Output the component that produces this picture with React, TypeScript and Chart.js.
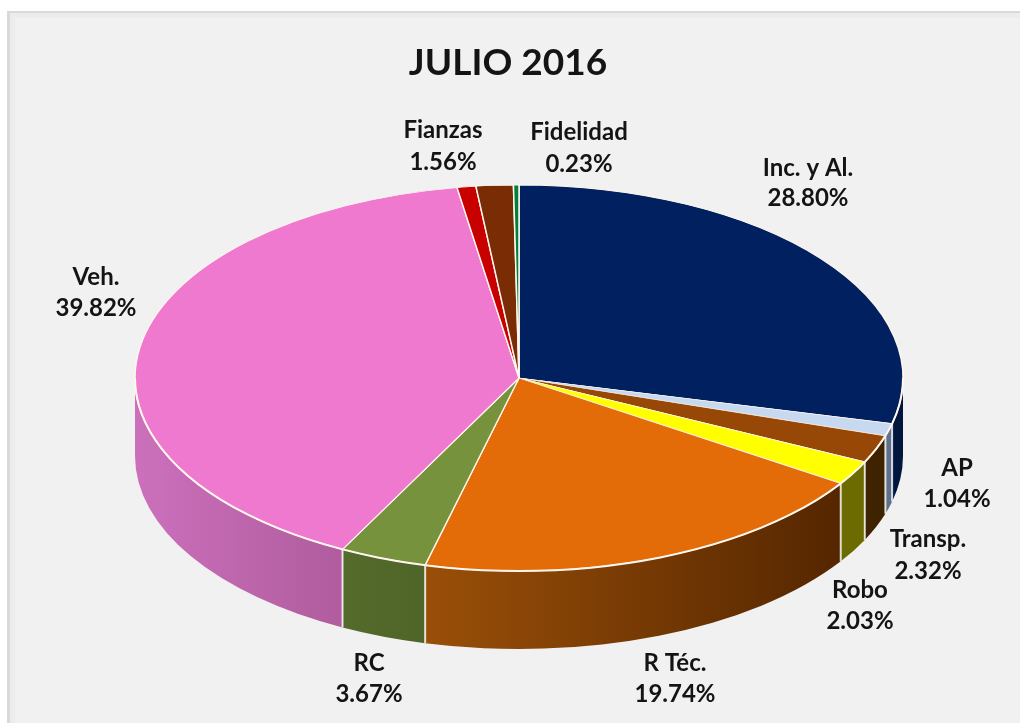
import React, { useEffect, useRef } from "react";
import { Chart, registerables } from "chart.js";

Chart.register(...registerables);

const categories = ["Inc. y Al.", "AP", "Transp.", "Robo", "R Téc.", "RC", "Veh.", "", "Fianzas", "Fidelidad"];
const shares = [28.8, 1.04, 2.32, 2.03, 19.74, 3.67, 39.82, 0.79, 1.56, 0.23];
const sliceColors = ["#002060", "#c6d9f0", "#974706", "#ffff00", "#e36c09", "#76923c", "#ee79cf", "#c90000", "#7a2c05", "#00803c"];
const wallLeftColors = ["#00163f", "#5f708a", "#3f2200", "#6b6b00", "#9a4f08", "#546b2c", "#cc70bc", "#800000", "#4c1c03", "#005028"];
const wallRightColors = ["#00163f", "#5f708a", "#3f2200", "#6b6b00", "#552600", "#4f6528", "#b05c9e", "#800000", "#4c1c03", "#005028"];
const labelCentersX = [808, 957, 928, 860, 675, 369, 96, 0, 443, 579];
const labelNameY = [168, 468, 539, 590, 663, 663, 277, 0, 130, 132];
const labelValueY = [198, 499, 571, 621, 694, 694, 308, 0, 162, 164];

const WIDTH = 1020;
const HEIGHT = 723;
const PIE_X = 519;
const PIE_Y = 378;
const PIE_RADIUS = 384;
const SQUASH = 193 / 384;
const DEPTH = 78;
const FONT_FAMILY = "Lato, 'Open Sans', sans-serif";

const frame = {
  id: "frame",
  beforeDraw(chart: any) {
    const { ctx } = chart;
    ctx.save();
    ctx.fillStyle = "#ffffff";
    ctx.fillRect(0, 0, WIDTH, HEIGHT);
    ctx.fillStyle = "#d9d9d9";
    ctx.fillRect(7, 11, WIDTH - 7, HEIGHT - 11);
    ctx.fillStyle = "#ececec";
    ctx.fillRect(10, 13, WIDTH - 10, HEIGHT - 13);
    ctx.fillStyle = "#f1f1f1";
    ctx.fillRect(15, 18, WIDTH - 15, HEIGHT - 18);
    ctx.restore();
  },
};

const pie3d = {
  id: "pie3d",
  beforeDatasetsDraw(chart: any) {
    const { ctx } = chart;
    const arcs = chart.getDatasetMeta(0).data;
    const rx = arcs[0].outerRadius;
    const ry = rx * SQUASH;
    const seams: number[] = [];
    ctx.save();
    arcs.forEach((arc: any, i: number) => {
      const a = Math.max(arc.startAngle, 0);
      const b = Math.min(arc.endAngle, Math.PI);
      if (a >= b) return;
      const grad = ctx.createLinearGradient(PIE_X + rx * Math.cos(b), 0, PIE_X + rx * Math.cos(a), 0);
      grad.addColorStop(0, wallLeftColors[i]);
      grad.addColorStop(1, wallRightColors[i]);
      ctx.beginPath();
      ctx.ellipse(PIE_X, PIE_Y, rx, ry, 0, a, b);
      ctx.ellipse(PIE_X, PIE_Y + DEPTH, rx, ry, 0, b, a, true);
      ctx.closePath();
      ctx.fillStyle = grad;
      ctx.fill();
      if (a > 0) seams.push(a);
    });
    ctx.strokeStyle = "rgba(255,255,255,0.8)";
    ctx.lineWidth = 2;
    seams.forEach((t) => {
      const x = PIE_X + rx * Math.cos(t);
      const y = PIE_Y + ry * Math.sin(t);
      ctx.beginPath();
      ctx.moveTo(x, y);
      ctx.lineTo(x, y + DEPTH);
      ctx.stroke();
    });
    ctx.restore();
    ctx.save();
    ctx.translate(PIE_X, PIE_Y);
    ctx.scale(1, SQUASH);
    ctx.translate(-arcs[0].x, -arcs[0].y);
  },
  afterDatasetsDraw(chart: any) {
    const { ctx } = chart;
    ctx.restore();
    const rx = chart.getDatasetMeta(0).data[0].outerRadius;
    ctx.save();
    ctx.strokeStyle = "#fff7ee";
    ctx.lineWidth = 2;
    ctx.beginPath();
    ctx.ellipse(PIE_X, PIE_Y, rx, rx * SQUASH, 0, 0, Math.PI);
    ctx.stroke();
    ctx.restore();
  },
};

const sliceLabels = {
  id: "sliceLabels",
  afterDraw(chart: any) {
    const { ctx } = chart;
    ctx.save();
    ctx.fillStyle = "#141414";
    ctx.font = `bold 24px ${FONT_FAMILY}`;
    ctx.textAlign = "center";
    ctx.textBaseline = "middle";
    categories.forEach((name, i) => {
      if (!name) return;
      ctx.fillText(name, labelCentersX[i], labelNameY[i]);
      ctx.fillText(`${shares[i].toFixed(2)}%`, labelCentersX[i], labelValueY[i]);
    });
    ctx.restore();
  },
};

export default function App() {
  const ref = useRef<HTMLCanvasElement | null>(null);
  useEffect(() => {
    const chart = new Chart(ref.current as HTMLCanvasElement, {
      type: "pie",
      data: {
        labels: categories,
        datasets: [
          {
            data: shares,
            backgroundColor: sliceColors,
            borderColor: "#fff7ee",
            borderWidth: 1.5,
            radius: PIE_RADIUS,
            clip: false,
          } as any,
        ],
      },
      options: {
        responsive: false,
        animation: false,
        events: [],
        layout: { padding: { left: 0, right: 4, top: 0, bottom: 0 } },
        plugins: {
          legend: { display: false },
          tooltip: { enabled: false },
          title: {
            display: true,
            text: "JULIO 2016",
            color: "#141414",
            font: { family: FONT_FAMILY, size: 37, weight: "bold" },
            padding: { top: 41, bottom: 10 },
          },
        },
      },
      plugins: [frame, pie3d, sliceLabels],
    });
    return () => chart.destroy();
  }, []);
  return (
    <div style={{ position: "fixed", left: 0, top: 0 }}>
      <canvas ref={ref} width={WIDTH} height={HEIGHT} style={{ display: "block" }} />
    </div>
  );
}
